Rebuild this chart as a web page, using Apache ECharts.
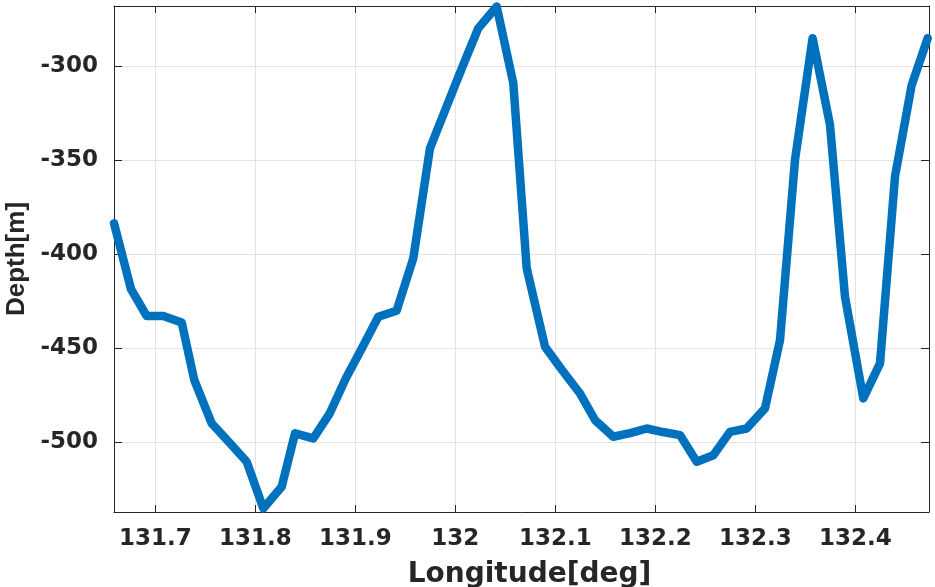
<!DOCTYPE html>
<html>
<head>
<meta charset="utf-8">
<script src="https://cdn.jsdelivr.net/npm/echarts@6/dist/echarts.min.js"></script>
<style>html,body{margin:0;padding:0;background:#fff;}#c{width:935px;height:587px;}</style>
</head>
<body>
<div id="c"></div>
<script>
const longitude = [131.6587,131.6757,131.6914,131.7080,131.7264,131.7390,131.7564,131.7737,131.7914,131.8080,
  131.8264,131.8397,131.8580,131.8740,131.8907,131.9067,131.9230,131.9413,131.9580,131.9747,
  131.9907,132.0067,132.0230,132.0414,132.0580,132.0714,132.0897,132.1067,132.1247,132.1397,
  132.1580,132.1747,132.1914,132.2077,132.2247,132.2414,132.2580,132.2747,132.2914,132.3097,
  132.3247,132.3397,132.3573,132.3747,132.3897,132.4080,132.4247,132.4397,132.4564,132.4724];
const depth = [-383.5,-418.5,-432.8,-432.8,-436.2,-466.9,-489.9,-499.8,-510.3,-535.1,
  -523.6,-495.2,-497.9,-485.0,-465.8,-449.8,-433.2,-430.0,-402.1,-343.6,
  -322.2,-300.9,-279.8,-268.3,-309.0,-407.4,-449.1,-461.5,-474.0,-488.1,
  -497.0,-495.1,-492.6,-494.5,-496.1,-510.3,-506.8,-494.4,-492.6,-481.9,
  -445.6,-349.8,-285.1,-331.2,-422.6,-476.6,-458.0,-358.7,-310.0,-285.1];
const xLimits = [131.6587, 132.4737];
const yLimits = [-537, -268];
const xTitle = 'Longitude[deg]';
const yTitle = 'Depth[m]';

const axisColor = '#262626';
const fontFamily = '"DejaVu Sans", sans-serif';
const chart = echarts.init(document.getElementById('c'), null, {renderer: 'canvas'});
const points = longitude.map((x, i) => [x, depth[i]]);
const commonX = {
  type: 'value', min: xLimits[0], max: xLimits[1], splitNumber: 8
};
const commonY = {
  type: 'value', min: yLimits[0], max: yLimits[1], splitNumber: 5
};
chart.setOption({
  animation: false,
  backgroundColor: '#ffffff',
  grid: {left: 114, right: 6, top: 6, bottom: 75, containLabel: false, outerBoundsMode: 'none'},
  xAxis: [
    Object.assign({}, commonX, {
      position: 'bottom',
      name: xTitle, nameLocation: 'middle', nameGap: 49,
      nameTextStyle: {fontFamily: fontFamily, fontWeight: 'bold', fontSize: 28, color: axisColor, verticalAlign: 'top', padding: [0, 0, 0, 16]},
      axisLine: {show: true, onZero: false, lineStyle: {color: axisColor, width: 1}},
      axisTick: {show: true, inside: true, length: 7, lineStyle: {color: axisColor, width: 1}},
      axisLabel: {show: true, margin: 16, fontFamily: fontFamily, fontWeight: 'bold', fontSize: 23, color: axisColor,
        showMinLabel: false, showMaxLabel: false},
      splitLine: {show: true, lineStyle: {color: '#e3e3e3', width: 1}}
    }),
    Object.assign({}, commonX, {
      position: 'top',
      axisLine: {show: true, onZero: false, lineStyle: {color: axisColor, width: 1}},
      axisTick: {show: true, inside: true, length: 7, lineStyle: {color: axisColor, width: 1}},
      axisLabel: {show: false},
      splitLine: {show: false}
    })
  ],
  yAxis: [
    Object.assign({}, commonY, {
      position: 'left',
      name: yTitle, nameLocation: 'middle', nameGap: 84, nameRotate: 90,
      nameTextStyle: {fontFamily: '"Liberation Sans", Arial, sans-serif', fontWeight: 'bold', fontSize: 26, color: axisColor},
      axisLine: {show: true, onZero: false, lineStyle: {color: axisColor, width: 1}},
      axisTick: {show: true, inside: true, length: 8, lineStyle: {color: axisColor, width: 1}},
      axisLabel: {show: true, margin: 16, fontFamily: fontFamily, fontWeight: 'bold', fontSize: 23, color: axisColor,
        showMinLabel: false, showMaxLabel: false},
      splitLine: {show: true, lineStyle: {color: '#e3e3e3', width: 1}}
    }),
    Object.assign({}, commonY, {
      position: 'right',
      axisLine: {show: true, onZero: false, lineStyle: {color: axisColor, width: 1}},
      axisTick: {show: true, inside: true, length: 8, lineStyle: {color: axisColor, width: 1}},
      axisLabel: {show: false},
      splitLine: {show: false}
    })
  ],
  series: [{
    type: 'line',
    data: points,
    xAxisIndex: 0, yAxisIndex: 0,
    showSymbol: false,
    symbol: 'none',
    clip: false,
    lineStyle: {color: '#0072BD', width: 8.5, cap: 'round', join: 'round'},
    z: 5
  }]
});
</script>
</body>
</html>
